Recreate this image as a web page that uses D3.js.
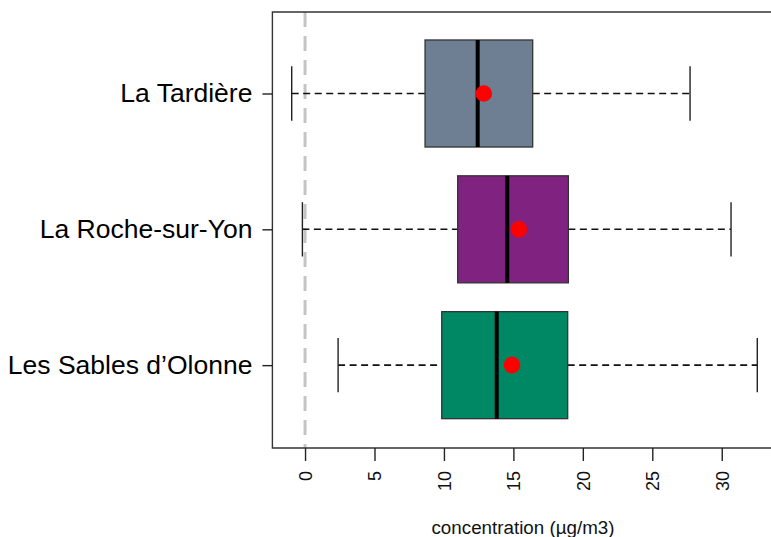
<!DOCTYPE html>
<html>
<head>
<meta charset="utf-8">
<script src="https://cdn.jsdelivr.net/npm/d3@7"></script>
<style>
  body { margin: 0; background: #fff; }
  text { font-family: Arial, "Liberation Sans", sans-serif; }
</style>
</head>
<body>
<div class="chart"></div>
<script>
var width = 771;
var height = 537;

// data, position 1 = bottom of the plot
var sites = ["Les Sables d\u2019Olonne", "La Roche-sur-Yon", "La Tardi\u00e8re"];
var positions = [1, 2, 3];
var whisker_low = [2.38, -0.19, -0.96];
var q1 = [9.84, 10.99, 8.64];
var medians = [13.80, 14.56, 12.43];
var means = [14.90, 15.39, 12.87];
var q3 = [18.91, 18.96, 16.39];
var whisker_high = [32.56, 30.67, 27.72];
var box_colors = ["#008763", "#7f2280", "#6e7f93"];
var x_ticks = [0, 5, 10, 15, 20, 25, 30];
var x_title = "concentration (\u00b5g/m3)";

var plot = {left: 272.4, right: 775.9, top: 12, bottom: 448};

var svg = d3.select(".chart").append("svg")
    .attr("width", width)
    .attr("height", height);

var x = d3.scaleLinear()
    .domain([-2.35, 33.9])
    .range([plot.left, plot.right]);

var y = d3.scaleLinear()
    .domain([0.39, 3.6])
    .range([plot.bottom, plot.top]);

// zero reference line
svg.append("line")
    .attr("x1", x(0)).attr("x2", x(0))
    .attr("y1", plot.top).attr("y2", plot.bottom)
    .attr("stroke", "#c4c4c4")
    .attr("stroke-width", 3)
    .attr("stroke-dasharray", "15,9");

var rows = sites.map(function(s, i){
    return {
        site: s, pos: positions[i], lo: whisker_low[i], q1: q1[i],
        med: medians[i], mean: means[i], q3: q3[i], hi: whisker_high[i],
        color: box_colors[i]
    };
});

var boxHalf = 0.394;
var capHalf = 0.2;

var g = svg.append("g");

// whiskers
g.selectAll("line.whisker_left")
    .data(rows).enter().append("line")
    .attr("x1", d => x(d.lo)).attr("x2", d => x(d.q1))
    .attr("y1", d => y(d.pos)).attr("y2", d => y(d.pos))
    .attr("stroke", "#111").attr("stroke-width", 1.6)
    .attr("stroke-dasharray", "7,4.5");

g.selectAll("line.whisker_right")
    .data(rows).enter().append("line")
    .attr("x1", d => x(d.q3)).attr("x2", d => x(d.hi))
    .attr("y1", d => y(d.pos)).attr("y2", d => y(d.pos))
    .attr("stroke", "#111").attr("stroke-width", 1.6)
    .attr("stroke-dasharray", "7,4.5");

// caps
["lo", "hi"].forEach(function(k){
    g.selectAll("line.cap_" + k)
        .data(rows).enter().append("line")
        .attr("x1", d => x(d[k])).attr("x2", d => x(d[k]))
        .attr("y1", d => y(d.pos + capHalf)).attr("y2", d => y(d.pos - capHalf))
        .attr("stroke", "#222").attr("stroke-width", 1.4);
});

// boxes
g.selectAll("rect.box")
    .data(rows).enter().append("rect")
    .attr("x", d => x(d.q1))
    .attr("width", d => x(d.q3) - x(d.q1))
    .attr("y", d => y(d.pos + boxHalf))
    .attr("height", d => y(d.pos - boxHalf) - y(d.pos + boxHalf))
    .attr("fill", d => d.color)
    .attr("stroke", "#333")
    .attr("stroke-width", 1.3);

// medians
g.selectAll("line.median")
    .data(rows).enter().append("line")
    .attr("x1", d => x(d.med)).attr("x2", d => x(d.med))
    .attr("y1", d => y(d.pos + boxHalf)).attr("y2", d => y(d.pos - boxHalf))
    .attr("stroke", "#000").attr("stroke-width", 4);

// means
g.selectAll("circle.mean")
    .data(rows).enter().append("circle")
    .attr("cx", d => x(d.mean))
    .attr("cy", d => y(d.pos))
    .attr("r", 8.3)
    .attr("fill", "#ff0000");

// frame (left, top, bottom; right side falls outside the window)
svg.append("path")
    .attr("d", "M" + plot.right + "," + plot.top + "H" + plot.left + "V" + plot.bottom + "H" + plot.right)
    .attr("fill", "none")
    .attr("stroke", "#333")
    .attr("stroke-width", 1.4);

// x axis
var x_axis = svg.append("g")
    .attr("transform", "translate(0," + plot.bottom + ")")
    .call(d3.axisBottom(x).tickValues(x_ticks).tickSize(13).tickSizeOuter(0));
x_axis.select(".domain").remove();
x_axis.selectAll(".tick line").attr("stroke", "#222").attr("stroke-width", 1.4);
x_axis.selectAll(".tick text")
    .attr("transform", "rotate(-90)")
    .attr("x", -23)
    .attr("y", 0)
    .attr("dy", "0.35em")
    .attr("text-anchor", "end")
    .attr("font-size", "18px")
    .attr("fill", "#111")
    .style("font-family", "Arial, 'Liberation Sans', sans-serif");

// y axis
var y_axis = svg.append("g")
    .attr("transform", "translate(" + plot.left + ",0)")
    .call(d3.axisLeft(y).tickValues(positions).tickFormat((d, i) => sites[i]).tickSize(10).tickPadding(10));
y_axis.select(".domain").remove();
y_axis.selectAll(".tick line").attr("stroke", "#222").attr("stroke-width", 1.4);
y_axis.selectAll(".tick text")
    .attr("font-size", "26.5px")
    .attr("fill", "#000")
    .style("font-family", "Arial, 'Liberation Sans', sans-serif");

// axis title
svg.append("text")
    .attr("x", 523)
    .attr("y", 534)
    .attr("text-anchor", "middle")
    .attr("font-size", "18.8px")
    .attr("fill", "#111")
    .text(x_title);
</script>
</body>
</html>
